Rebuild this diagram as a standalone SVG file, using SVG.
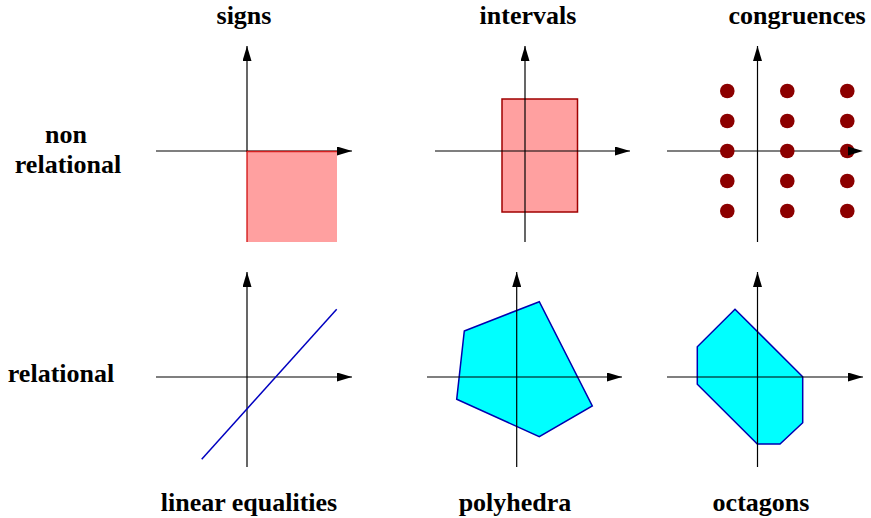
<svg xmlns="http://www.w3.org/2000/svg" width="871" height="518" viewBox="0 0 871 518">
<style>
.lbl{font-family:'Liberation Serif','Times New Roman',Times,serif;font-weight:700;font-size:26px;fill:#000}
.ax{stroke:#000;stroke-width:1.2;fill:none}
.dot{fill:#8c0000}
.poly{fill:#00ffff;stroke:#0000b0;stroke-width:1.5;stroke-linejoin:miter}
</style>
<defs>
<marker id="ah" markerWidth="15" markerHeight="9" refX="15" refY="4.5" orient="auto" markerUnits="userSpaceOnUse"><path d="M0,0 L15,4.5 L0,9 Z" fill="#000"/></marker>
</defs>
<rect width="871" height="518" fill="#fff"/>
<g id="labels">
<text class="lbl" x="244" y="24" text-anchor="middle">signs</text>
<text class="lbl" x="528" y="24" text-anchor="middle">intervals</text>
<text class="lbl" x="797" y="24" text-anchor="middle">congruences</text>
<text class="lbl" x="66" y="143" text-anchor="middle">non</text>
<text class="lbl" x="68" y="173" text-anchor="middle">relational</text>
<text class="lbl" x="61" y="382" text-anchor="middle">relational</text>
<text class="lbl" x="249" y="511" text-anchor="middle">linear equalities</text>
<text class="lbl" x="515" y="511" text-anchor="middle">polyhedra</text>
<text class="lbl" x="761" y="511" text-anchor="middle">octagons</text>
</g>
<g id="signs">
<path class="ax" d="M247,152 V46" marker-end="url(#ah)"/>
<path class="ax" d="M156,151 H352" marker-end="url(#ah)"/>
<rect x="247" y="151" width="90" height="91" fill="#ffa0a0"/>
<path d="M247,242 V151.5 H337" fill="none" stroke="#cc0000" stroke-width="1.5" stroke-opacity="0.8"/>
</g>
<g id="intervals">
<rect x="502" y="99" width="75.5" height="113" fill="#ffa0a0" stroke="#a00000" stroke-width="1.5"/>
<path class="ax" d="M525,242 V46" marker-end="url(#ah)"/>
<path class="ax" d="M435,151 H630" marker-end="url(#ah)"/>
</g>
<g id="congruences">
<path class="ax" d="M757.5,242 V46" marker-end="url(#ah)"/>
<path class="ax" d="M667,151 H849"/>
<circle class="dot" cx="727.3" cy="91" r="7.3"/>
<circle class="dot" cx="727.3" cy="121" r="7.3"/>
<circle class="dot" cx="727.3" cy="151" r="7.3"/>
<circle class="dot" cx="727.3" cy="181" r="7.3"/>
<circle class="dot" cx="727.3" cy="211" r="7.3"/>
<circle class="dot" cx="787.3" cy="91" r="7.3"/>
<circle class="dot" cx="787.3" cy="121" r="7.3"/>
<circle class="dot" cx="787.3" cy="151" r="7.3"/>
<circle class="dot" cx="787.3" cy="181" r="7.3"/>
<circle class="dot" cx="787.3" cy="211" r="7.3"/>
<circle class="dot" cx="847.3" cy="91" r="7.3"/>
<circle class="dot" cx="847.3" cy="121" r="7.3"/>
<circle class="dot" cx="847.3" cy="151" r="7.3"/>
<circle class="dot" cx="847.3" cy="181" r="7.3"/>
<circle class="dot" cx="847.3" cy="211" r="7.3"/>
<path d="M848,146.5 L863,151 L848,155.5 Z" fill="#000"/>
</g>
<g id="linear-equalities">
<path class="ax" d="M247,467 V272" marker-end="url(#ah)"/>
<path class="ax" d="M156,377 H352" marker-end="url(#ah)"/>
<path d="M201.7,459.3 L336.7,309.3" stroke="#0000c0" stroke-width="1.5" fill="none"/>
</g>
<g id="polyhedra">
<polygon class="poly" points="464.3,331 539.3,301.7 592.3,406 539.3,436.7 456.7,399.3"/>
<path class="ax" d="M516.7,467 V272" marker-end="url(#ah)"/>
<path class="ax" d="M427,377 H622" marker-end="url(#ah)"/>
</g>
<g id="octagons">
<polygon class="poly" points="735,309.3 802.7,376.7 802.7,422.7 780,444 757.3,444 697.3,384.3 697.3,346.7"/>
<path class="ax" d="M757.5,467 V272" marker-end="url(#ah)"/>
<path class="ax" d="M667,377 H863" marker-end="url(#ah)"/>
</g>
</svg>
